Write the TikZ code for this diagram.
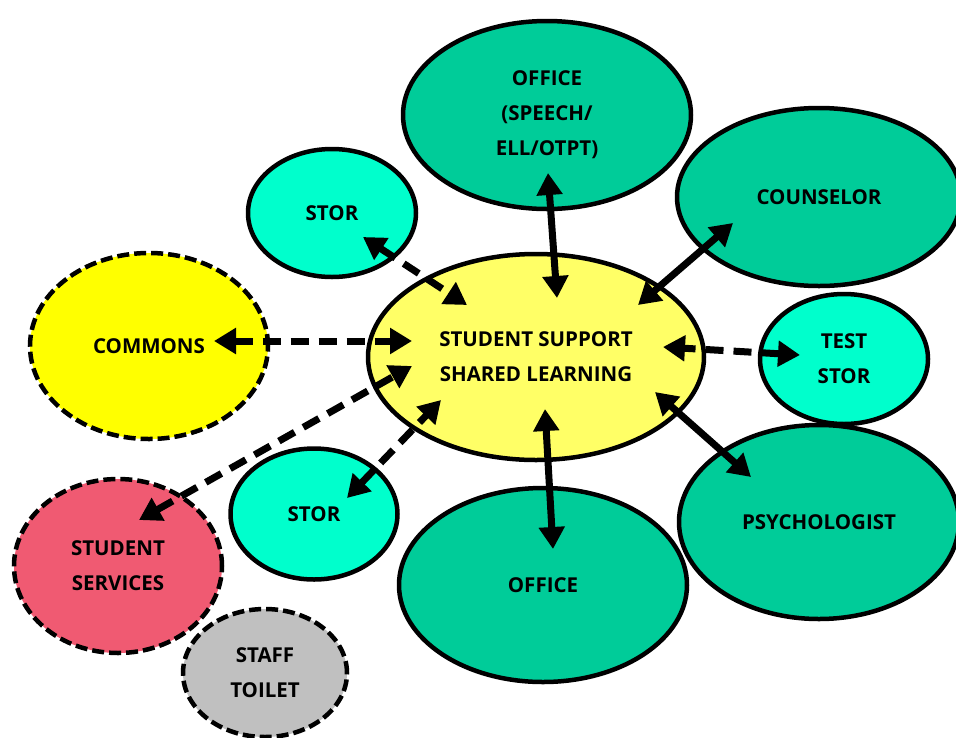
\documentclass[tikz,border=0pt]{standalone}
\usepackage{fontspec}
\setmainfont{Open Sans}
\usetikzlibrary{arrows.meta,shapes.geometric}
\definecolor{teal}{RGB}{0,204,153}
\definecolor{aqua}{RGB}{0,255,204}
\definecolor{hub}{RGB}{255,255,102}
\definecolor{yel}{RGB}{255,255,0}
\definecolor{rose}{RGB}{240,90,114}
\definecolor{greyc}{RGB}{192,192,192}
\tikzset{
  room/.style={ellipse, draw=black, line width=4.5pt, inner sep=0pt, align=center,
    font=\fontsize{20.5}{35}\selectfont\bfseries},
  droom/.style={room, dash pattern=on 12pt off 5pt},
  link/.style={line width=7pt, {Triangle[length=22pt,width=25pt]}-{Triangle[length=22pt,width=25pt]}},
  dlink/.style={link, dash pattern=on 18pt off 10pt},
}
\begin{document}
\begin{tikzpicture}[x=1pt,y=-1pt]
\useasboundingbox (0,0) rectangle (956,737);
% rooms
\node[room, fill=hub, minimum width=336pt, minimum height=206pt] (hub) at (536,357) {STUDENT SUPPORT\\SHARED LEARNING};
\node[room, fill=teal, minimum width=288pt, minimum height=188pt] (offtop) at (547,115) {OFFICE\\(SPEECH/\\ELL/OTPT)};
\node[room, fill=teal, minimum width=284pt, minimum height=178pt] (couns) at (819,197) {COUNSELOR};
\node[room, fill=aqua, minimum width=168pt, minimum height=128pt] (stortop) at (332,213) {STOR};
\node[droom, fill=yel, minimum width=238pt, minimum height=186pt] (commons) at (149,346) {COMMONS};
\node[room, fill=aqua, minimum width=168pt, minimum height=130pt] (test) at (844,359) {TEST\\STOR};
\node[room, fill=aqua, minimum width=167pt, minimum height=131pt] (storbot) at (314,514) {STOR};
\node[room, fill=teal, minimum width=288pt, minimum height=194pt] (offbot) at (543,585) {OFFICE};
\node[room, fill=teal, minimum width=280pt, minimum height=194pt] (psych) at (819,522) {PSYCHOLOGIST};
\node[droom, fill=rose, minimum width=208pt, minimum height=174pt] (serv) at (118,566) {STUDENT\\SERVICES};
\node[droom, fill=greyc, minimum width=164pt, minimum height=128pt] (toilet) at (265,673) {STAFF\\TOILET};
% arrow ends (tips reach into the rooms)
\coordinate (a1) at (548,173); \coordinate (b1) at (557,298);
\coordinate (a2) at (733,223); \coordinate (b2) at (638,305);
\coordinate (a3) at (363,237); \coordinate (b3) at (467,305);
\coordinate (a4) at (214,341); \coordinate (b4) at (412,341);
\coordinate (a5) at (800,355); \coordinate (b5) at (663,347);
\coordinate (a6) at (751,477); \coordinate (b6) at (655,392);
\coordinate (a7) at (553,549); \coordinate (b7) at (545,409);
\coordinate (a8) at (139,520); \coordinate (b8) at (412,366);
\coordinate (a9) at (347,498); \coordinate (b9) at (441,400);
% connectors
\draw[link] (a1) -- (b1);
\draw[link] (a2) -- (b2);
\draw[dlink] (a3) -- (b3);
\draw[dlink] (a4) -- (b4);
\draw[dlink] (a5) -- (b5);
\draw[link] (a6) -- (b6);
\draw[link] (a7) -- (b7);
\draw[dlink] (a8) -- (b8);
\draw[dlink] (a9) -- (b9);
\end{tikzpicture}
\end{document}
